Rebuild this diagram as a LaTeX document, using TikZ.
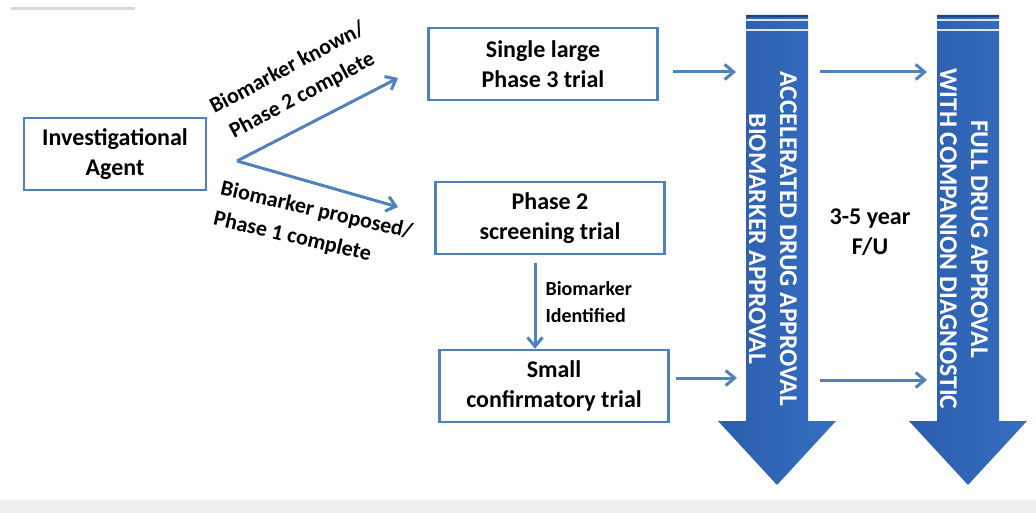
\documentclass[tikz,border=0pt]{standalone}
\usepackage{fontspec}
\setmainfont{Carlito}
\usetikzlibrary{arrows.meta}
\definecolor{boxblue}{HTML}{4F81BD}
\definecolor{arrowdark}{HTML}{2C5DAC}
\definecolor{arrowlight}{HTML}{4389E0}

\begin{document}
\begin{tikzpicture}[x=1pt, y=-1pt, >={Straight Barb[length=9pt,width=15pt]},
    trial/.style={draw=boxblue, line width=2.5pt, minimum width=229pt, minimum height=72pt,
      align=center, font=\fontsize{24}{30}\selectfont\bfseries},
    flow/.style={->, draw=boxblue, line width=3pt},
    tag/.style={font=\fontsize{22}{31}\selectfont\bfseries},
    bigarrow/.style={left color=arrowdark, middle color=arrowlight, right color=arrowdark!60!arrowlight},
    approval/.style={rotate=-90, align=center, text=white, font=\fontsize{25.5}{31}\selectfont\bfseries}]

  \useasboundingbox (0,0) rectangle (1036,513);
  \fill[gray!13] (0,500) rectangle (1036,513);
  \draw[gray!30, line width=3pt] (11,9) -- (135,9);

  % trials
  \node [trial, minimum width=182pt] (agent) at (115,154) {Investigational\\Agent};
  \node [trial] (phase3) at (543,64) {Single large\\Phase 3 trial};
  \node [trial] (phase2) at (550,218) {Phase 2\\screening trial};
  \node [trial] (small) at (554,386) {Small\\confirmatory trial};

  % approval arrows
  \foreach \n/\x/\t in {acc/777/{ACCELERATED DRUG APPROVAL\\BIOMARKER APPROVAL},
                        full/968/{FULL DRUG APPROVAL\\WITH COMPANION DIAGNOSTIC}} {
    \shade [bigarrow] (\x-31,15) -- (\x+31,15) -- (\x+31,421) -- (\x+59,421)
      -- (\x,485) -- (\x-59,421) -- (\x-31,421) -- cycle;
    \fill [arrowdark!70!black] (\x-31,15) rectangle (\x+31,17.5);
    \foreach \s in {20,30}
      \draw [white!80!arrowlight, line width=1.2pt] (\x-31,\s) -- (\x+31,\s);
    \node [approval] (\n) at (\x-4,239) {\t};
  }

  \node [trial, draw=none, minimum width=0pt] (fu) at (870,232) {3-5 year\\F/U};

  % fork from the agent
  \coordinate (fork) at (237,161);
  \coordinate (known-end) at (398,78);
  \coordinate (proposed-end) at (398,207);
  \draw [flow] (fork) -- (known-end);
  \draw [flow] (fork) -- (proposed-end);
  \node [tag, rotate=28, align=center] (known) at (295,82) {Biomarker known/\\Phase 2 complete};
  \node [tag, rotate=-13, align=left] (proposed) at (313,226) {Biomarker proposed/\\Phase 1 complete};

  \draw [flow, shorten <=8pt] ([xshift=-15pt]phase2.south) -- ([xshift=-15pt]phase2.south |- small.north);
  \node [tag, anchor=west, align=left, font=\fontsize{20}{27}\selectfont\bfseries] (identified) at (542,302) {Biomarker\\Identified};

  % into the approvals
  \foreach \y/\a/\b in {72/673/736, 378/676/737, 72/820/927, 380/820/927} {
    \coordinate (from-\a-\y) at (\a,\y);
    \coordinate (to-\b-\y) at (\b,\y);
    \draw [flow] (from-\a-\y) -- (to-\b-\y);
  }

\end{tikzpicture}
\end{document}
